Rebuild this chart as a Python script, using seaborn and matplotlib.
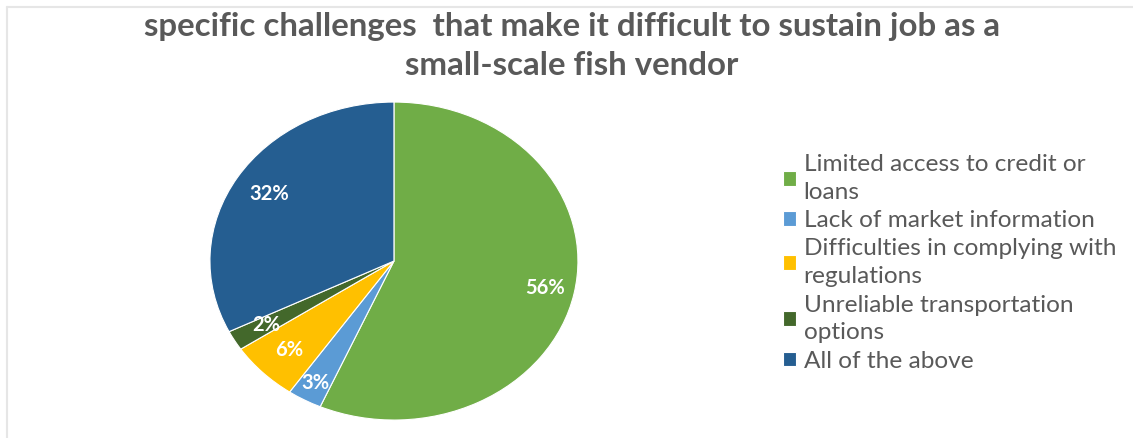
import matplotlib
matplotlib.use("Agg")
import matplotlib.pyplot as plt
from matplotlib.lines import Line2D
import numpy as np
import seaborn as sns

# Survey responses: challenges faced by small-scale fish vendors
categories = [
    "Limited access to credit or\nloans",
    "Lack of market information",
    "Difficulties in complying with\nregulations",
    "Unreliable transportation\noptions",
    "All of the above",
]
shares = [56, 3, 6, 2, 32]
colors = ["#70AD47", "#5B9BD5", "#FFC000", "#43682B", "#255E91"]
title = "specific challenges  that make it difficult to sustain job as a\nsmall-scale fish vendor"

sns.set_theme(style="white")
plt.rcParams["font.family"] = ["Lato", "DejaVu Sans"]

fig = plt.figure(figsize=(11.33, 4.38), dpi=100)
fig.patch.set_facecolor("white")

# Pie axes, stretched horizontally into an ellipse
ax = fig.add_axes([0.1853, 0.041, 0.3248, 0.726])
wedges, _ = ax.pie(
    shares,
    colors=colors,
    startangle=90,
    counterclock=False,
    wedgeprops=dict(linewidth=0.8, edgecolor="white"),
)
ax.set_aspect("auto")
ax.set_xlim(-1, 1)
ax.set_ylim(-1, 1)

# Percentage labels inside each wedge
label_radius = [0.84, 0.88, 0.8, 0.8, 0.8]
for w, v, r in zip(wedges, shares, label_radius):
    mid = np.deg2rad((w.theta1 + w.theta2) / 2)
    ax.text(r * np.cos(mid), r * np.sin(mid), f"{v}%", ha="center", va="center",
            color="white", fontsize=14.5, fontweight="bold")

fig.text(0.505, 0.894, title, ha="center", va="center", fontsize=23.8,
         fontweight="bold", color="#595959", linespacing=1.42)

leg = fig.legend(
    wedges, categories,
    loc="center left", bbox_to_anchor=(0.691, 0.40),
    frameon=False, fontsize=17.6, labelcolor="#595959",
    handlelength=0.55, handleheight=0.55, handletextpad=0.3,
    labelspacing=0.3, borderaxespad=0, borderpad=0,
)
for t in leg.get_texts():
    t.set_linespacing(1.4)

# Thin grey frame lines along the top and left edges
fig.add_artist(Line2D([0.006, 1.0], [0.984, 0.984], color="#E6E6E6", lw=1.5,
                      transform=fig.transFigure))
fig.add_artist(Line2D([0.0065, 0.0065], [0.0, 0.984], color="#E6E6E6", lw=1.5,
                      transform=fig.transFigure))

fig.savefig("out.png", dpi=100, facecolor="white")
